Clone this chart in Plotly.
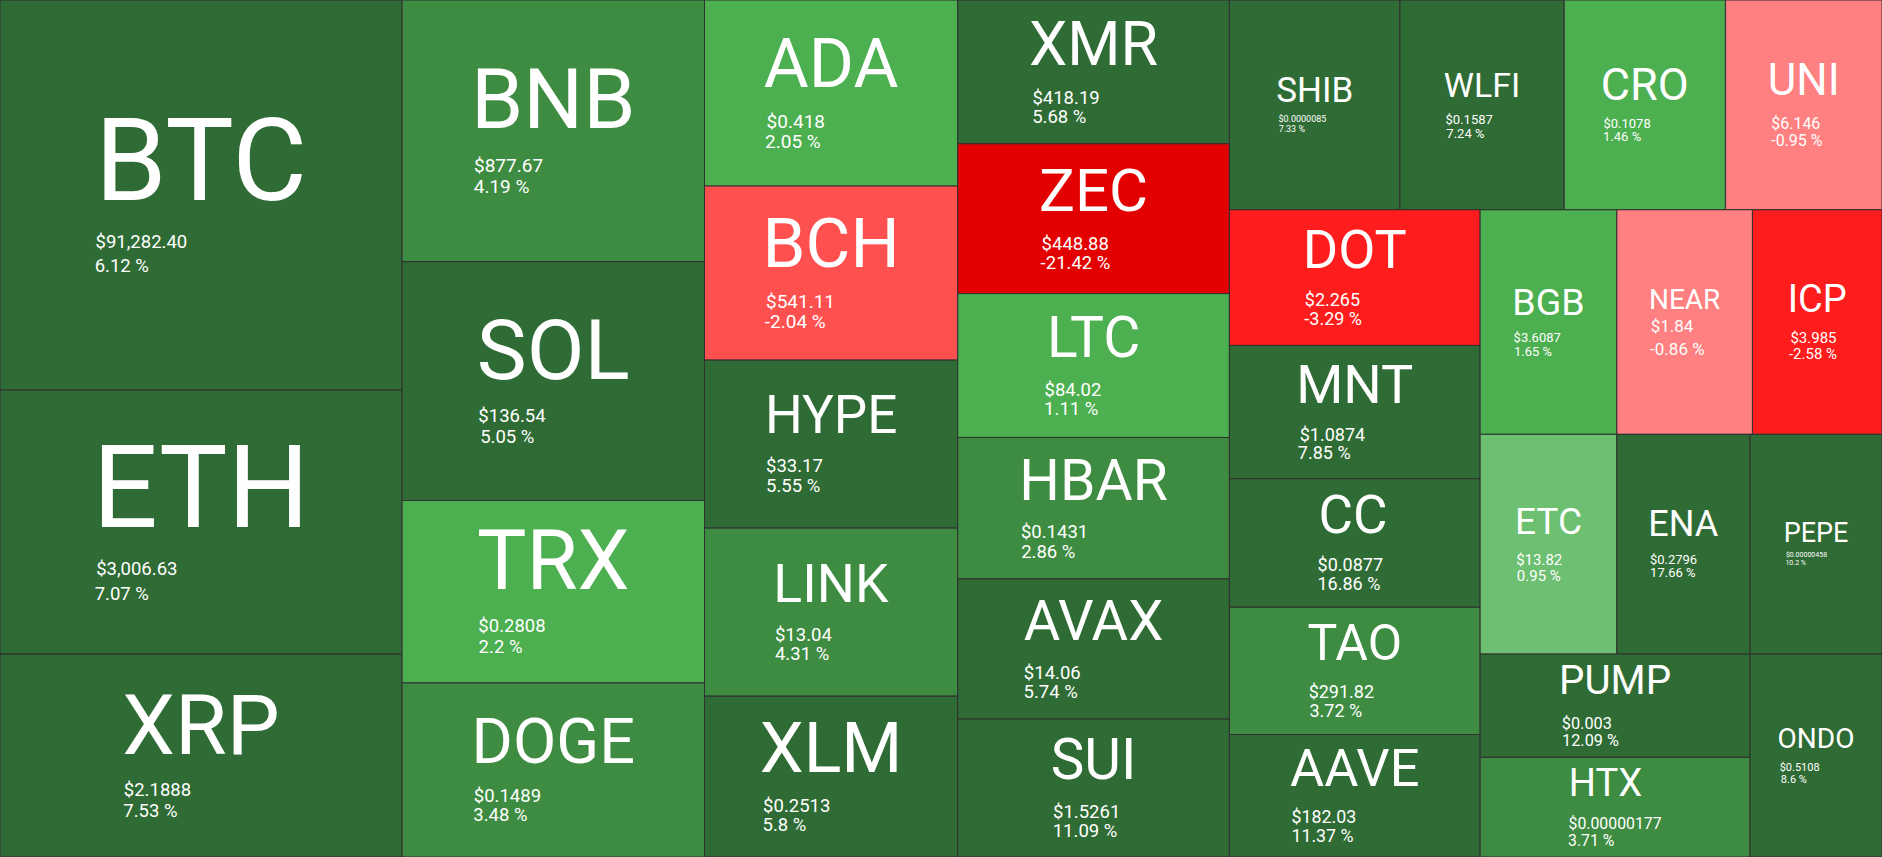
import plotly.graph_objects as go

# ---- data ----
symbols = ["BTC", "ETH", "XRP", "BNB", "SOL", "TRX", "DOGE", "ADA", "BCH", "HYPE",
           "LINK", "XLM", "XMR", "ZEC", "LTC", "HBAR", "AVAX", "SUI", "SHIB", "WLFI",
           "CRO", "UNI", "DOT", "MNT", "CC", "TAO", "AAVE", "BGB", "NEAR", "ICP",
           "ETC", "ENA", "PEPE", "PUMP", "HTX", "ONDO"]
prices = ["$91,282.40", "$3,006.63", "$2.1888", "$877.67", "$136.54", "$0.2808", "$0.1489",
          "$0.418", "$541.11", "$33.17", "$13.04", "$0.2513", "$418.19", "$448.88", "$84.02",
          "$0.1431", "$14.06", "$1.5261", "$0.0000085", "$0.1587", "$0.1078", "$6.146",
          "$2.265", "$1.0874", "$0.0877", "$291.82", "$182.03", "$3.6087", "$1.84", "$3.985",
          "$13.82", "$0.2796", "$0.00000458", "$0.003", "$0.00000177", "$0.5108"]
changes = [6.12, 7.07, 7.53, 4.19, 5.05, 2.2, 3.48, 2.05, -2.04, 5.55,
           4.31, 5.8, 5.68, -21.42, 1.11, 2.86, 5.74, 11.09, 7.33, 7.24,
           1.46, -0.95, -3.29, 7.85, 16.86, 3.72, 11.37, 1.65, -0.86, -2.58,
           0.95, 17.66, 10.2, 12.09, 3.71, 8.6]
# tile weights (relative areas)
weights = [108875, 73700, 56615, 54936, 50148, 38304, 36540, 32705, 30595, 29540,
           29540, 28274, 27120, 28250, 27120, 26668, 26442, 26000, 24835, 23917,
           23479, 22800, 23612, 23199, 22363, 22154, 21318, 21318, 21131, 20196,
           20862, 20313, 20130, 19350, 18675, 18590]

# ---- styling ----
symbol_px = [115, 115, 84, 84, 84, 83, 63, 69, 69, 53,
             53.5, 70, 61, 60, 57, 57, 56, 56.5, 35, 34,
             45, 44, 54, 54, 53, 50, 53, 37.5, 28, 38,
             37, 36, 27, 42, 41, 28]
detail_px = [18.5, 18.5, 18.5, 19, 18.5, 18.5, 18.5, 19, 19, 18.5,
             18.5, 18.5, 18.5, 18.5, 18.5, 18.5, 18.5, 18.5, 9, 13,
             13, 16, 18, 18, 18, 18, 18, 13, 17, 15,
             15, 13, 7, 17, 17, 11]


def color_for(p):
    if p >= 5:
        return "#2f6b34"
    if p >= 2.5:
        return "#3d8c41"
    if p >= 1:
        return "#4caf50"
    if p >= 0:
        return "#6dbf71"
    if p > -1:
        return "#ff8080"
    if p > -2.5:
        return "#ff5050"
    if p > -5:
        return "#ff1c1c"
    return "#e30000"


ADV = {c: w for c, w in zip("ABCDEFGHIJKLMNOPQRSTUVWXYZ",
       [.652, .623, .651, .656, .569, .553, .681, .697, .272, .551, .626, .538, .853,
        .697, .672, .632, .672, .615, .594, .596, .634, .636, .868, .626, .600, .598])}
ADV.update({d: .5615 for d in "0123456789"})
ADV.update({"$": .562, ",": .196, ".": .263, "%": .715, " ": .248, "-": .276})
SP = 0.248  # advance of a (no-break) space, in em


def em_width(s):
    return sum(ADV.get(ch, .56) for ch in s)


NBSP = "\u00a0"
texts = []
base_px = []
for sym, pr, ch, S, d in zip(symbols, prices, changes, symbol_px, detail_px):
    G = 0.244 * S + 1.2 * d      # wanted: symbol baseline -> price baseline
    P = 1.13 * d                 # wanted: price baseline -> pct baseline
    best = None
    for k in (1, 2):
        L0 = max(1.05 * d, (k * G + P) / (k * k + 1))
        err = (k * L0 - G) ** 2 + (L0 - P) ** 2
        if best is None or err < best[0]:
            best = (err, k, L0)
    _, k, L0 = best
    b = L0 / 1.3
    base_px.append(b)

    pct = f"{ch:g} %"
    F = 0.89 * S                 # trailing space that balances the symbol's ascent
    sym_w = S * em_width(sym)
    pr_w = d * em_width(pr)
    pct_w = d * em_width(pct) + SP * F
    maxw = max(sym_w, pr_w, pct_w)
    shift = 4 if sym_w >= maxw else 0
    sym_pad = max(0, round((maxw - sym_w) / (SP * b)))
    pr_pad = max(0, round((maxw - shift - pr_w) / (SP * d)))
    pct_pad = max(0, round((maxw - shift - pct_w) / (SP * d)))

    parts = [f'<span style="font-size:{S}px">{sym}</span>' + NBSP * sym_pad]
    parts += [NBSP] * (k - 1)
    parts.append(f'<span style="font-size:{d}px">{pr}{NBSP * pr_pad}</span>')
    parts.append(f'<span style="font-size:{d}px">{pct}{NBSP * pct_pad}</span>'
                 f'<span style="font-size:{F:.1f}px">{NBSP}</span>')
    texts.append("<br>".join(parts))

fig = go.Figure(go.Treemap(
    labels=symbols,
    parents=[""] * len(symbols),
    values=weights,
    text=texts,
    textinfo="text",
    textposition="middle center",
    textfont=dict(family="Roboto", color="white", size=base_px),
    marker=dict(colors=[color_for(c) for c in changes],
                line=dict(color="#303030", width=1),
                pad=dict(t=0, l=0, r=0, b=0)),
    tiling=dict(packing="squarify", squarifyratio=1.597, pad=0),
    sort=False,
    pathbar=dict(visible=False),
    hoverinfo="none",
))
fig.update_layout(width=1882, height=857, margin=dict(l=0, r=0, t=0, b=0),
                  paper_bgcolor="#303030", hovermode=False)
fig.write_html("out.html", config={"displayModeBar": False},
               post_script="document.body.style.margin='0';")
